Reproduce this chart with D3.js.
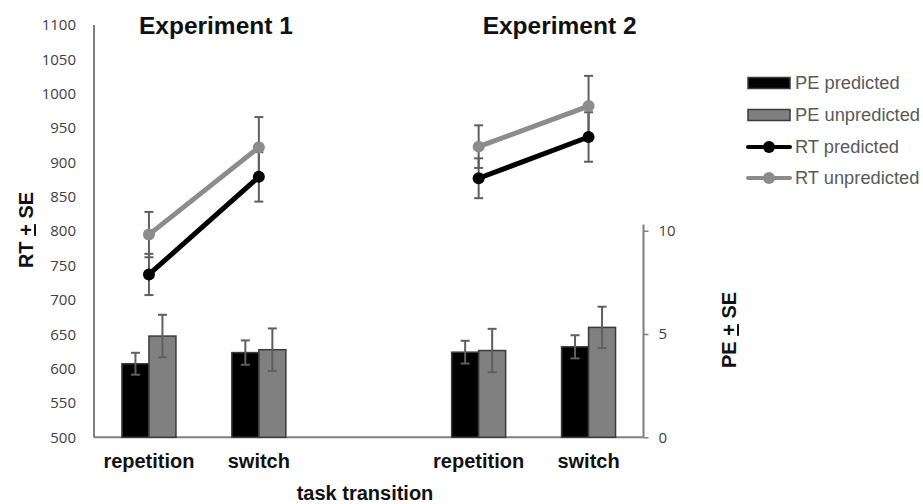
<!DOCTYPE html>
<html>
<head>
<meta charset="utf-8">
<script src="https://cdn.jsdelivr.net/npm/d3@7"></script>
<style>
  html, body { margin: 0; padding: 0; background: #fff; }
  svg { display: block; }
</style>
</head>
<body>
<svg id="chart" width="923" height="504"></svg>
<script>
// ---------- data ----------
const categories = ["repetition", "switch", "", "repetition", "switch"];
const experiments = ["Experiment 1", "Experiment 2"];
const rtTicks = [500, 550, 600, 650, 700, 750, 800, 850, 900, 950, 1000, 1050, 1100];
const peTicks = [0, 5, 10];

const rtPredicted     = [737, 879, null, 877, 937];
const rtPredictedSE   = [30, 36, null, 29, 36];
const rtUnpredicted   = [795, 922, null, 923, 982];
const rtUnpredictedSE = [33, 44, null, 31, 44];

const pePredicted     = [3.56, 4.10, null, 4.12, 4.38];
const pePredictedSE   = [0.53, 0.59, null, 0.55, 0.56];
const peUnpredicted   = [4.90, 4.24, null, 4.20, 5.32];
const peUnpredictedSE = [1.03, 1.03, null, 1.05, 1.00];

const legendLabels = ["PE predicted", "PE unpredicted", "RT predicted", "RT unpredicted"];

// ---------- layout ----------
const svg = d3.select("#chart");
const plotLeft = 94, plotRight = 643.5, plotTop = 25, plotBottom = 437.3;

const x = d3.scaleBand().domain(d3.range(categories.length)).range([plotLeft, plotRight]).padding(0);
const cx = i => x(i) + x.bandwidth() / 2;
const inner = d3.scaleBand().domain(["pred", "unpred"]).range([-27, 27]).padding(0);

const yRT = d3.scaleLinear().domain([500, 1100]).range([plotBottom, plotTop]);
const yPE = d3.scaleLinear().domain([0, 10]).range([plotBottom, 230.7]);

const axisGray = "#7f7f7f";
const tickColor = "#404040";
const errColor = "#5f5f5f";
const boldFont = "Liberation Sans, Arial, sans-serif";

// ---------- axes ----------
const gL = svg.append("g").attr("transform", `translate(${plotLeft},0)`)
  .call(d3.axisLeft(yRT).tickValues(rtTicks).tickSize(0).tickPadding(18).tickFormat(d3.format("d")));
gL.select(".domain").remove();
gL.selectAll("text").attr("font-family", "Open Sans, sans-serif").attr("font-size", 15).attr("fill", tickColor);
svg.append("line").attr("x1", plotLeft).attr("x2", plotLeft).attr("y1", yRT(1100)).attr("y2", plotBottom)
  .attr("stroke", axisGray).attr("stroke-width", 2);

const gR = svg.append("g").attr("transform", `translate(${plotRight},0)`)
  .call(d3.axisRight(yPE).tickValues(peTicks).tickSize(5).tickPadding(10));
gR.select(".domain").remove();
gR.selectAll("line").attr("stroke", axisGray).attr("stroke-width", 1.5);
gR.selectAll("text").attr("font-family", "Open Sans, sans-serif").attr("font-size", 15).attr("fill", tickColor);
svg.append("line").attr("x1", plotRight).attr("x2", plotRight).attr("y1", yPE(10.3)).attr("y2", plotBottom)
  .attr("stroke", axisGray).attr("stroke-width", 2);

svg.append("line").attr("x1", plotLeft).attr("x2", plotRight).attr("y1", plotBottom).attr("y2", plotBottom)
  .attr("stroke", axisGray).attr("stroke-width", 2);

// category labels
svg.append("g").selectAll("text").data(categories).join("text")
  .attr("x", (d, i) => cx(i)).attr("y", 468)
  .attr("text-anchor", "middle")
  .attr("font-family", boldFont).attr("font-weight", "bold")
  .attr("font-size", 20).attr("fill", "#111")
  .text(d => d);

svg.append("text").attr("x", 365).attr("y", 500).attr("text-anchor", "middle")
  .attr("font-family", boldFont).attr("font-weight", "bold")
  .attr("font-size", 20).attr("fill", "#111").text("task transition");

// experiment titles
const titleX = [(cx(0) + cx(1)) / 2 + 12, (cx(3) + cx(4)) / 2 + 26];
svg.append("g").selectAll("text").data(experiments).join("text")
  .attr("x", (d, i) => titleX[i]).attr("y", 34)
  .attr("text-anchor", "middle")
  .attr("font-family", boldFont).attr("font-weight", "bold")
  .attr("font-size", 24.5).attr("fill", "#111")
  .text(d => d);

// axis titles
function axisTitle(tx, ty, a, b) {
  const t = svg.append("text").attr("transform", `translate(${tx},${ty}) rotate(-90)`)
    .attr("text-anchor", "middle")
    .attr("font-family", boldFont).attr("font-weight", "bold")
    .attr("font-size", 20).attr("fill", "#111");
  t.append("tspan").text(a + " ");
  t.append("tspan").attr("text-decoration", "underline").text("+");
  t.append("tspan").text(" " + b);
}
axisTitle(33, 230, "RT", "SE");
axisTitle(736, 330, "PE", "SE");

// ---------- bars ----------
const barSeries = [
  { key: "pred", vals: pePredicted, se: pePredictedSE, fill: "#000000" },
  { key: "unpred", vals: peUnpredicted, se: peUnpredictedSE, fill: "#808080" }
];
const gBars = svg.append("g");
barSeries.forEach(s => {
  const idx = d3.range(categories.length).filter(i => s.vals[i] != null);
  gBars.append("g").selectAll("rect").data(idx).join("rect")
    .attr("x", i => cx(i) + inner(s.key))
    .attr("width", inner.bandwidth())
    .attr("y", i => yPE(s.vals[i]))
    .attr("height", i => plotBottom - yPE(s.vals[i]))
    .attr("fill", s.fill).attr("stroke", "#3a3a3a").attr("stroke-width", 1.5);
});

function errorBars(g, xs, yLo, yHi) {
  g.append("line").attr("x1", xs).attr("x2", xs).attr("y1", yLo).attr("y2", yHi)
    .attr("stroke", errColor).attr("stroke-width", 2);
  [yLo, yHi].forEach(yy => g.append("line").attr("x1", xs - 4.5).attr("x2", xs + 4.5)
    .attr("y1", yy).attr("y2", yy).attr("stroke", errColor).attr("stroke-width", 2));
}
const gErr = svg.append("g");
barSeries.forEach(s => {
  d3.range(categories.length).filter(i => s.vals[i] != null).forEach(i => {
    const xs = cx(i) + inner(s.key) + inner.bandwidth() / 2;
    errorBars(gErr, xs, yPE(s.vals[i] - s.se[i]), yPE(s.vals[i] + s.se[i]));
  });
});

// ---------- RT lines ----------
const lineSeries = [
  { vals: rtUnpredicted, se: rtUnpredictedSE, color: "#8c8c8c" },
  { vals: rtPredicted, se: rtPredictedSE, color: "#000000" }
];
const gRTerr = svg.append("g");
lineSeries.forEach(s => {
  d3.range(categories.length).filter(i => s.vals[i] != null).forEach(i => {
    errorBars(gRTerr, cx(i), yRT(s.vals[i] - s.se[i]), yRT(s.vals[i] + s.se[i]));
  });
});
const line = d3.line().defined(d => d.v != null).x(d => cx(d.i)).y(d => yRT(d.v));
lineSeries.forEach(s => {
  const pts = s.vals.map((v, i) => ({ i, v }));
  svg.append("path").datum(pts).attr("d", line).attr("fill", "none")
    .attr("stroke", s.color).attr("stroke-width", 5).attr("stroke-linecap", "round");
  svg.append("g").selectAll("circle").data(pts.filter(d => d.v != null)).join("circle")
    .attr("cx", d => cx(d.i)).attr("cy", d => yRT(d.v)).attr("r", 6)
    .attr("fill", s.color);
});

// ---------- legend ----------
const lg = svg.append("g");
const legendY = [83, 115, 147, 178];
const lx0 = 748, lx1 = 790;
legendLabels.forEach((lab, k) => {
  const yy = legendY[k];
  if (k < 2) {
    lg.append("rect").attr("x", lx0).attr("y", yy - 5.5).attr("width", lx1 - lx0).attr("height", 11)
      .attr("fill", k === 0 ? "#000" : "#808080").attr("stroke", "#3a3a3a").attr("stroke-width", 1.5);
  } else {
    const c = k === 2 ? "#000" : "#8c8c8c";
    lg.append("line").attr("x1", lx0).attr("x2", lx1).attr("y1", yy).attr("y2", yy)
      .attr("stroke", c).attr("stroke-width", 4).attr("stroke-linecap", "round");
    lg.append("circle").attr("cx", (lx0 + lx1) / 2).attr("cy", yy).attr("r", 6).attr("fill", c);
  }
  lg.append("text").attr("x", 795).attr("y", yy).attr("dy", "0.35em")
    .attr("font-family", boldFont).attr("font-size", 18.3)
    .attr("fill", "#595959").text(lab);
});
</script>
</body>
</html>
